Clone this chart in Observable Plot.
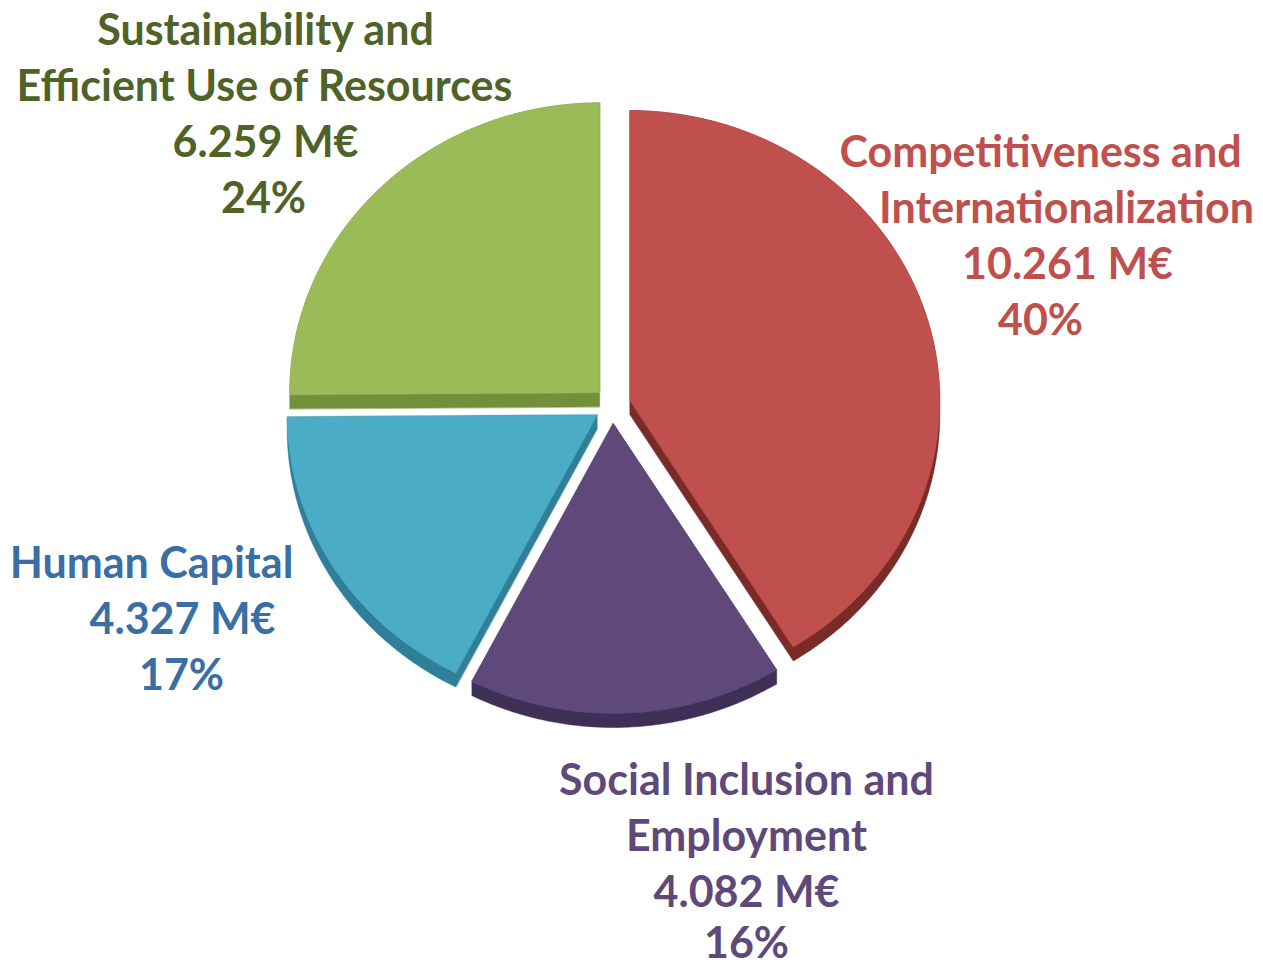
<!DOCTYPE html>
<html>
<head>
<meta charset="utf-8">
<script src="https://cdn.jsdelivr.net/npm/d3@7"></script>
<script src="https://cdn.jsdelivr.net/npm/@observablehq/plot@0.6"></script>
<style>
  html, body { margin: 0; padding: 0; background: #ffffff; }
  #chart svg { display: block; }
</style>
</head>
<body>
<div id="chart"></div>
<script>
// ---- data ----
const categories = [
  "Competitiveness and Internationalization",
  "Social Inclusion and Employment",
  "Human Capital",
  "Sustainability and Efficient Use of Resources"
];
const valuesMEur = [10261, 4082, 4327, 6259];
const valueLabels = ["10.261 M€", "4.082 M€", "4.327 M€", "6.259 M€"];
const percentLabels = ["40%", "16%", "17%", "24%"];
const nameLines = [
  ["Competitiveness and", "Internationalization"],
  ["Social Inclusion and", "Employment"],
  ["Human Capital"],
  ["Sustainability and", "Efficient Use of Resources"]
];

// ---- styles ----
const topColors  = ["#C0504D", "#5F497A", "#4BACC6", "#9BBB59"];
const sideColors = ["#7A2A27", "#3D2F55", "#2E7F97", "#72903A"];
const textColors = ["#C0504D", "#5F497A", "#3A6FA6", "#4F6228"];

// ---- layout (pixels) ----
const W = 1263, H = 968;
const CX = 612, CY = 405, RX = 310, RY = 290, EXPLODE = 18, DEPTH = 14;
// per-line label anchors: [centerX, baselineY] for each line (name lines, value, percent)
const labelAnchors = [
  [[1040, 166], [1066, 222], [1067, 278], [1040, 334]],
  [[746, 794], [746, 850], [746, 906], [746, 957]],
  [[151, 577], [182, 633], [181, 689]],
  [[265, 44], [264, 100], [265, 156], [263, 212]]
];

// ---- geometry from data ----
const arcs = d3.pie().sort(null).value(d => d)(valuesMEur);
const faceRows = [], sideRows = [];
arcs.forEach((p, i) => {
  const mid = (p.startAngle + p.endAngle) / 2;
  const cx = CX + EXPLODE * Math.sin(mid);
  const cy = CY - EXPLODE * Math.cos(mid);
  const pts = [[cx, cy]];
  const n = Math.ceil((p.endAngle - p.startAngle) / 0.01);
  for (let k = 0; k <= n; k++) {
    const a = p.startAngle + (p.endAngle - p.startAngle) * k / n;
    pts.push([cx + RX * Math.sin(a), cy - RY * Math.cos(a)]);
  }
  pts.forEach(([x, y]) => faceRows.push({key: categories[i], x, y, color: topColors[i]}));
  const hull = d3.polygonHull(pts.concat(pts.map(([x, y]) => [x, y + DEPTH])));
  hull.forEach(([x, y]) => sideRows.push({key: categories[i], x, y, color: sideColors[i]}));
});

const textRows = [];
categories.forEach((c, i) => {
  const lines = nameLines[i].concat([valueLabels[i], percentLabels[i]]);
  lines.forEach((t, j) => {
    const [x, y] = labelAnchors[i][j];
    textRows.push({text: t, x, y, color: textColors[i]});
  });
});

const chart = Plot.plot({
  width: W,
  height: H,
  margin: 0,
  x: {domain: [0, W], range: [0, W], axis: null},
  y: {domain: [0, H], range: [0, H], axis: null},
  color: {type: "identity"},
  style: {background: "#ffffff"},
  marks: [
    Plot.line(sideRows, {x: "x", y: "y", z: "key", fill: "color", stroke: "color", strokeWidth: 0.5, curve: "linear-closed"}),
    Plot.line(faceRows, {x: "x", y: "y", z: "key", fill: "color", stroke: "color", strokeWidth: 0.5, curve: "linear-closed"}),
    Plot.text(textRows, {
      x: "x", y: "y", text: "text", fill: "color",
      fontSize: 43, fontWeight: "bold", fontFamily: "Lato, 'Open Sans', sans-serif",
      textAnchor: "middle", lineAnchor: "bottom"
    })
  ]
});
document.getElementById("chart").appendChild(chart);
</script>
</body>
</html>
